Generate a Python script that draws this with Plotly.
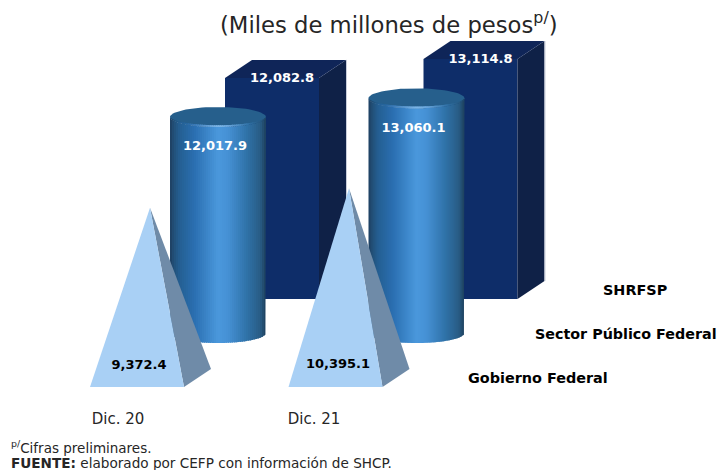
import numpy as np
import plotly.graph_objects as go

# ---- data ----
categories = ["Dic. 20", "Dic. 21"]
series_names = ["SHRFSP", "Sector Público Federal", "Gobierno Federal"]
shrfsp = [12082.8, 13114.8]
sector_publico = [12017.9, 13060.1]
gobierno = [9372.4, 10395.1]
value_labels_shrfsp = ["12,082.8", "13,114.8"]
value_labels_sector = ["12,017.9", "13,060.1"]
value_labels_gob = ["9,372.4", "10,395.1"]

# ---- layout / style ----
W, H = 718, 470
PLOT_BOTTOM = 400
SCALE = 0.0183           # pixels per unit of value
PYR_STRETCH = 1.045
CYL_SQUASH = 0.982
STEP = 198.5             # horizontal spacing between categories
FONT = "DejaVu Sans"
FRONT, SIDE, TOP = "#0E2D69", "#0F2147", "#0F2558"
PYR_FRONT, PYR_SIDE = "#A9D0F5", "#6F8BA8"
CYL_TOP = "#265F8C"
EDGE = "#C8CDDA"
GRAD_POS = [0, .04, .10, .25, .50, .60, .80, .94, 1]
GRAD_R = [30, 34, 36, 42, 74, 70, 47, 40, 29]
GRAD_G = [63, 80, 95, 110, 152, 145, 114, 92, 63]
GRAD_B = [95, 120, 146, 176, 220, 213, 168, 133, 92]


def py(pixels_from_top):
    """Pixel row to value-axis position."""
    return (PLOT_BOTTOM - pixels_from_top) / SCALE


def d(pixels):
    return pixels / SCALE


fig = go.Figure()


def poly(xs, ys, color):
    fig.add_trace(go.Scatter(x=list(xs), y=list(ys), mode="lines", fill="toself",
                             fillcolor=color, line=dict(width=0), hoverinfo="skip",
                             showlegend=False))


def grad(t, lift=0.0):
    r = np.interp(t, GRAD_POS, GRAD_R)
    g = np.interp(t, GRAD_POS, GRAD_G)
    b = np.interp(t, GRAD_POS, GRAD_B)
    r, g, b = r + (255 - r) * lift, g + (255 - g) * lift, b + (255 - b) * lift
    return f"rgb({r:.0f},{g:.0f},{b:.0f})"


def box(i, value):
    x0 = 225 + i * STEP
    w, dx, dy = 94, 27, 18
    base = py(299)
    top = base + value
    poly([x0, x0 + w, x0 + w, x0], [base, base, top, top], FRONT)
    poly([x0 + w, x0 + w + dx, x0 + w + dx, x0 + w],
         [base, base + d(dy), top + d(dy), top], SIDE)
    poly([x0, x0 + w, x0 + w + dx, x0 + dx],
         [top, top, top + d(dy), top + d(dy)], TOP)
    fig.add_trace(go.Scatter(x=[x0 + w + dx + .5] * 2, y=[base + d(dy), top + d(dy)], mode="lines",
                             line=dict(color=EDGE, width=1), hoverinfo="skip", showlegend=False))


def cylinder(i, value):
    x0 = 170 + i * STEP
    w, n, b = 96, 48, 10.0
    base = py(333)
    top = base + value * CYL_SQUASH
    for k in range(n):
        t0, t1 = k / n, (k + 1) / n
        ts = np.linspace(t0, min(t1 + 0.012, 1), 4)
        arc = d(b) * np.sqrt(np.clip(1 - (2 * ts - 1) ** 2, 0, 1))
        xs = x0 + ts * w
        poly(np.r_[xs, xs[::-1]], np.r_[top - arc, (base - arc)[::-1]], grad((t0 + t1) / 2))
    th = np.linspace(0, 2 * np.pi, 80)
    poly(x0 + w / 2 + w / 2 * np.cos(th), top + d(b) * np.sin(th), CYL_TOP)
    # bright lip along the front of the top face
    for k in range(n):
        t0, t1 = k / n, (k + 1) / n
        ts = np.linspace(t0, min(t1 + 0.012, 1), 4)
        arc = d(b) * np.sqrt(np.clip(1 - (2 * ts - 1) ** 2, 0, 1))
        xs = x0 + ts * w
        mid = (t0 + t1) / 2
        lift = 0.28 * max(0.0, 1 - abs(2 * mid - 1) * 1.5)
        poly(np.r_[xs, xs[::-1]], np.r_[top - arc, (top - arc + d(1.8) * (arc / d(b)) ** .5)[::-1]],
             grad(mid, lift))


def pyramid(i, value):
    x0 = 90 + i * STEP
    w, dx, dy = 94, 27, 18
    base = py(387)
    apex_x = x0 + 60 + i * 0.5
    apex_y = base + value * PYR_STRETCH
    poly([x0 + w, x0 + w + dx, apex_x], [base, base + d(dy), apex_y], PYR_SIDE)
    poly([x0, x0 + w, apex_x], [base, base, apex_y], PYR_FRONT)


for i in range(len(categories)):
    box(i, shrfsp[i])
    cylinder(i, sector_publico[i])
    pyramid(i, gobierno[i])


def labels(xs, ys, texts, color):
    fig.add_trace(go.Scatter(x=xs, y=ys, text=texts, mode="text", hoverinfo="skip",
                             showlegend=False, textposition="middle center",
                             textfont=dict(family=FONT, size=13, color=color, weight="bold")))


labels([282 + i * STEP for i in range(2)],
       [py(299) + v + d(-1) for v in shrfsp], value_labels_shrfsp, "white")
labels([215 + i * STEP for i in range(2)],
       [py(333) + v * CYL_SQUASH - d(30) for v in sector_publico], value_labels_sector, "white")
labels([139, 338], [py(366), py(365)], value_labels_gob, "black")

TEXT = "#262626"
notes = [
    (389, 23, "(Miles de millones de pesos<sup>p/</sup>)", 22.7, "center", TEXT),
    (635, 290, "<b>SHRFSP</b>", 14.4, "center", "black"),
    (626, 334, "<b>Sector Público Federal</b>", 14.3, "center", "black"),
    (538, 378, "<b>Gobierno Federal</b>", 14.4, "center", "black"),
    (9, 447, "<sup>p/</sup>Cifras preliminares.", 13.5, "left", TEXT),
    (9, 463, "<b>FUENTE:</b> elaborado por CEFP con información de SHCP.", 13.6, "left", TEXT),
]
for x, y, text, size, anchor, color in notes:
    fig.add_annotation(x=x / W, y=(PLOT_BOTTOM - y) / PLOT_BOTTOM, xref="paper", yref="paper", text=text,
                       xanchor=anchor, yanchor="middle", showarrow=False,
                       font=dict(family=FONT, size=size, color=color))

fig.update_xaxes(range=[0, W], tickvals=[118, 314], ticktext=categories, showgrid=False,
                 zeroline=False, showline=False, ticks="", ticklabelstandoff=8,
                 tickfont=dict(family=FONT, size=15, color=TEXT))
fig.update_yaxes(range=[0, PLOT_BOTTOM / SCALE], visible=False, showgrid=False, zeroline=False)
fig.update_layout(width=W, height=H, margin=dict(l=0, r=0, t=0, b=H - PLOT_BOTTOM, pad=0),
                  paper_bgcolor="white", plot_bgcolor="white", showlegend=False)
fig.write_html("out.html", config={"displayModeBar": False},
               post_script="document.body.style.margin='0';document.documentElement.style.overflow='hidden';")
